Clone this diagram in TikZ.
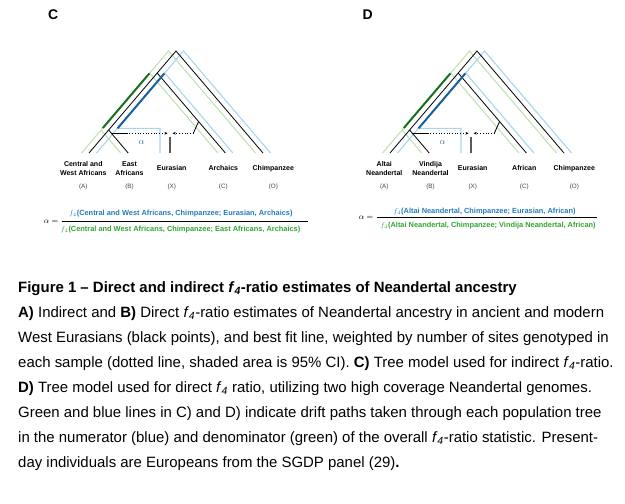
\documentclass[tikz,border=0pt]{standalone}
\usepackage{fontspec}
\setmainfont{Liberation Sans}
\usetikzlibrary{arrows.meta}
\definecolor{lgreen}{RGB}{194,226,182}
\definecolor{lblue}{RGB}{168,214,240}
\definecolor{dgreen}{RGB}{22,112,30}
\definecolor{dblue}{RGB}{26,96,156}
\definecolor{numblue}{RGB}{38,124,186}
\definecolor{dengreen}{RGB}{52,164,52}
\definecolor{alphablue}{RGB}{60,110,160}
\definecolor{taggray}{RGB}{70,70,70}
\newcommand{\ffour}{\textit{f}\textsubscript{\textit{4}}}
\newcommand{\mffour}{$f_4$}
\tikzset{
  blk/.style={black, line width=0.8pt},
  lg/.style={lgreen, line width=1.1pt},
  lb/.style={lblue, line width=1.1pt},
  dg/.style={dgreen, line width=2pt},
  db/.style={dblue, line width=2pt},
  admix/.style={black, line width=0.7pt, dotted, -{Stealth[length=3.2pt,width=2.8pt]}},
  xline/.style={black!65, line width=1.5pt},
  leaf/.style={font=\fontsize{7}{9.3}\selectfont\bfseries, align=center, inner sep=0pt},
  tag/.style={font=\fontsize{6.3}{7}\selectfont, text=taggray, inner sep=0pt},
  alphalab/.style={text=alphablue, font=\fontsize{9}{10}\selectfont, inner sep=0pt},
  panellab/.style={font=\fontsize{14}{16}\selectfont\bfseries, inner sep=0pt},
  eqlab/.style={font=\fontsize{8.5}{10}\selectfont, inner sep=0pt},
  numer/.style={font=\fontsize{7.4}{9}\selectfont\bfseries, text=numblue, inner sep=0pt},
  denom/.style={font=\fontsize{7.4}{9}\selectfont\bfseries, text=dengreen, inner sep=0pt},
  fracline/.style={black, line width=0.6pt},
  captxt/.style={anchor=base west, inner sep=0pt, font=\fontsize{14.95}{17}\selectfont},
}
\newcommand{\drawtreepanel}[3]{%
  % black tree points
  \coordinate (R) at (176,51);
  \coordinate (A) at (89,153);
  \coordinate (O) at (263,153);
  \coordinate (N1) at (157.2,73);
  \coordinate (C) at (225.4,153);
  \coordinate (N2) at (108.6,130);
  \coordinate (B) at (128.2,153);
  % green offsets
  \coordinate (gA) at (81.5,153);
  \coordinate (gR) at (168.5,51);
  \coordinate (gO) at (255.5,153);
  \coordinate (gB) at (120.7,153);
  \coordinate (gN2) at (101.1,130);
  \coordinate (gN1) at (149.7,73);
  \coordinate (gC) at (217.9,153);
  \coordinate (g1) at (102.8,128);
  \coordinate (g2) at (149.4,73.4);
  % blue offsets
  \coordinate (bA) at (96.5,153);
  \coordinate (bR) at (183.5,51);
  \coordinate (bO) at (270.5,153);
  \coordinate (bX) at (160,153);
  \coordinate (bXc) at (160,128.3);
  \coordinate (bN2) at (117.6,128.3);
  \coordinate (bN1) at (164.7,73);
  \coordinate (bC) at (232.9,153);
  \coordinate (b1) at (117.6,128.3);
  \coordinate (b2) at (164.3,73.5);
  % admixture
  \coordinate (adB) at (111.4,133.3);
  \coordinate (adB2) at (126.7,133.3);
  \coordinate (xl) at (167.6,133.3);
  \coordinate (adC) at (198.6,121.5);
  \coordinate (adC2) at (193.3,133.3);
  \coordinate (xr) at (172.6,133.3);
  \coordinate (Xtop) at (170,137);
  \coordinate (Xbot) at (170,153);
  % coloured drift paths
  \draw[lg] (gA) -- (gR) -- (gO);
  \draw[lg] (gB) -- (gN2) -- (gN1) -- (gC);
  \draw[lb] (bA) -- (bR) -- (bO);
  \draw[lb] (bX) -- (bXc) -- (bN2) -- (bN1) -- (bC);
  % tree
  \draw[blk] (A) -- (R) -- (O);
  \draw[blk] (N1) -- (C);
  \draw[blk] (N2) -- (B);
  % shared drift
  \draw[dg] (g1) -- (g2);
  \draw[db] (b1) -- (b2);
  % admixture
  \draw[blk] (adB) -- (adB2);
  \draw[admix] (adB2) -- (xl);
  \draw[blk] (adC) -- (adC2);
  \draw[admix] (adC2) -- (xr);
  \draw[xline] (Xtop) -- (Xbot);
  \node[alphalab] (al) at (141.7,142.5) {$\alpha$};
  % leaf labels
  \node[leaf] (lA) at (83.3,168.7) {#1};
  \node[leaf] (lB) at (129.5,168.7) {#2};
  \node[leaf] (lX) at (171.7,168.3) {Eurasian};
  \node[leaf] (lC) at (223.3,168.3) {#3};
  \node[leaf] (lO) at (273.3,168.3) {Chimpanzee};
  \node[tag] (tA) at (83.3,186.7) {(A)};
  \node[tag] (tB) at (129.5,186.7) {(B)};
  \node[tag] (tX) at (171.7,186.7) {(X)};
  \node[tag] (tC) at (223.3,186.7) {(C)};
  \node[tag] (tO) at (273.3,186.7) {(O)};
}
\begin{document}
\begin{tikzpicture}[x=1pt,y=-1pt]
\useasboundingbox[fill=white] (0,0) rectangle (625,504);
% panel labels
\node[panellab] (pc) at (53.3,15) {C};
\node[panellab] (pd) at (367.7,15) {D};
% panel C
\begin{scope}[name prefix=c-]
  \drawtreepanel{Central and\\West Africans}{East\\Africans}{Archaics}
\end{scope}
% panel D
\begin{scope}[xshift=301pt, name prefix=d-]
  \drawtreepanel{Altai\\Neandertal}{Vindija\\Neandertal}{African}
\end{scope}
% formula C
\node[eqlab, anchor=east] (ceq) at (58.5,221.5) {$\alpha =$};
\coordinate (cf1) at (61.7,221);
\coordinate (cf2) at (308,221);
\draw[fracline] (cf1) -- (cf2);
\node[numer] (cnum) at (180.8,213.3) {\mffour(Central and West Africans, Chimpanzee; Eurasian, Archaics)};
\node[denom] (cden) at (180.5,229.3) {\mffour(Central and West Africans, Chimpanzee; East Africans, Archaics)};
% formula D
\node[eqlab, anchor=east] (deq) at (373.5,217.8) {$\alpha =$};
\coordinate (df1) at (376.7,217.3);
\coordinate (df2) at (596.7,217.3);
\draw[fracline] (df1) -- (df2);
\node[numer] (dnum) at (484.5,211.7) {\mffour(Altai Neandertal, Chimpanzee; Eurasian, African)};
\node[denom] (dden) at (488,226) {\mffour(Altai Neandertal, Chimpanzee; Vindija Neandertal, African)};
% caption
\node[captxt] (l1) at (18,292) {\textbf{Figure 1 – Direct and indirect \ffour-ratio estimates of Neandertal ancestry}};
\node[captxt] (l2) at (18,317) {\textbf{A)} Indirect and \textbf{B)} Direct \ffour-ratio estimates of Neandertal ancestry in ancient and modern};
\node[captxt] (l3) at (18,342) {West Eurasians (black points), and best fit line, weighted by number of sites genotyped in};
\node[captxt] (l4) at (18,367.5) {each sample (dotted line, shaded area is 95\% CI). \textbf{C)} Tree model used for indirect \ffour-ratio.};
\node[captxt] (l5) at (18,392.5) {\textbf{D)} Tree model used for direct \ffour{} ratio, utilizing two high coverage Neandertal genomes.};
\node[captxt] (l6) at (18,417.5) {Green and blue lines in C) and D) indicate drift paths taken through each population tree};
\node[captxt] (l7) at (18,442.5) {in the numerator (blue) and denominator (green) of the overall \ffour-ratio statistic. Present-};
\node[captxt] (l8) at (18,467.5) {day individuals are Europeans from the SGDP panel (29)\textbf{.}};
\end{tikzpicture}
\end{document}
